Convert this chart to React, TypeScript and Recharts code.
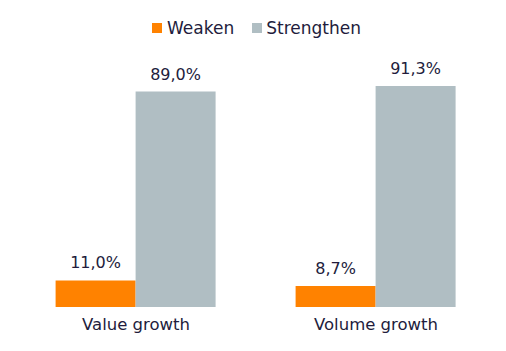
import { BarChart, Bar, XAxis, YAxis, LabelList } from "recharts"

const categories = ["Value growth", "Volume growth"]
const weaken = [11.0, 8.7]
const strengthen = [89.0, 91.3]

const data = categories.map((name, i) => ({
  name,
  weaken: weaken[i],
  strengthen: strengthen[i],
}))

const ORANGE = "#FF8200"
const GRAY = "#B0BEC3"
const TEXT = "#221c3c"
const FONT = "'DejaVu Sans', sans-serif"

const fmt = (v: number) => v.toFixed(1).replace(".", ",") + "%"

export default function App() {
  return (
    <div style={{ position: "relative", width: 490, height: 343, fontFamily: FONT }}>
      <div
        style={{
          position: "absolute",
          top: 10,
          left: 144,
          display: "flex",
          alignItems: "center",
          fontSize: 17,
          color: TEXT,
        }}
      >
        <span style={{ width: 10, height: 10, background: ORANGE, display: "inline-block", marginRight: 5 }} />
        <span style={{ marginRight: 18 }}>Weaken</span>
        <span style={{ width: 10, height: 10, background: GRAY, display: "inline-block", marginRight: 4 }} />
        <span>Strengthen</span>
      </div>
      <BarChart
        width={490}
        height={343}
        data={data}
        margin={{ top: 57, right: 2, bottom: 14, left: 8 }}
        barCategoryGap="16.5%"
        barGap={0}
      >
        <XAxis
          dataKey="name"
          axisLine={false}
          tickLine={false}
          tickMargin={5}
          height={30}
          tick={{ fill: TEXT, fontSize: 16.5, fontFamily: FONT }}
        />
        <YAxis hide domain={[0, 100]} />
        <Bar dataKey="weaken" fill={ORANGE} isAnimationActive={false}>
          <LabelList dataKey="weaken" position="top" offset={12} formatter={(v: any) => fmt(Number(v))} fill={TEXT} fontSize={16} fontFamily={FONT} />
        </Bar>
        <Bar dataKey="strengthen" fill={GRAY} isAnimationActive={false}>
          <LabelList dataKey="strengthen" position="top" offset={12} formatter={(v: any) => fmt(Number(v))} fill={TEXT} fontSize={16} fontFamily={FONT} />
        </Bar>
      </BarChart>
    </div>
  )
}
